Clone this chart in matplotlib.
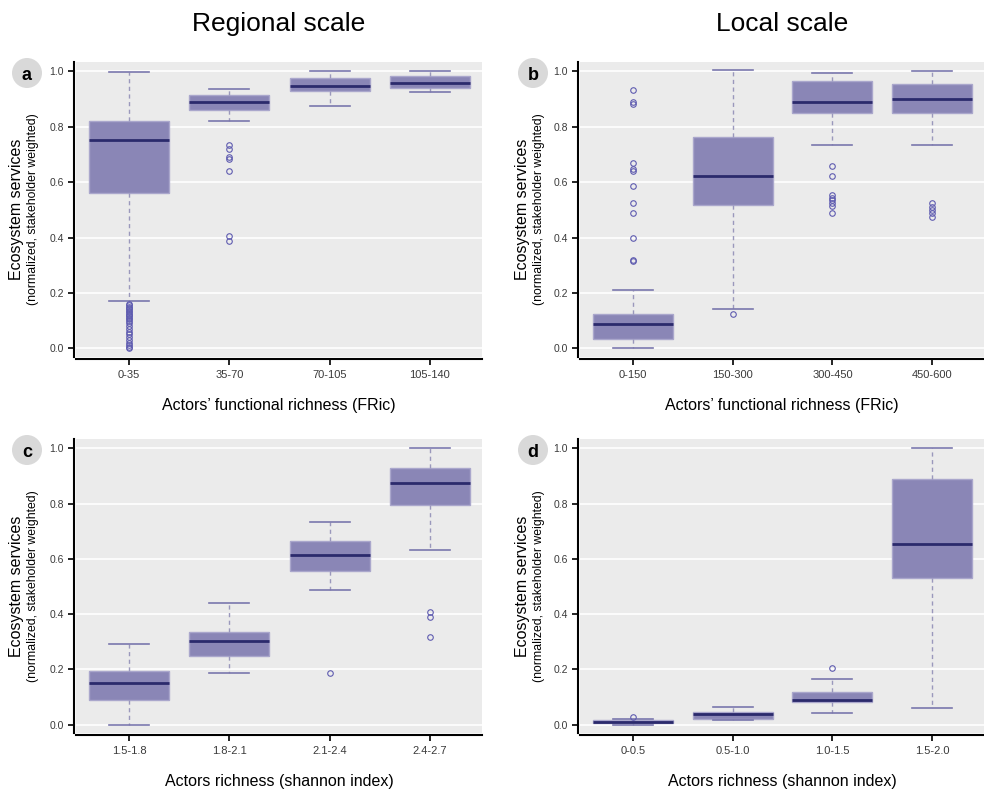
import matplotlib
matplotlib.use("Agg")
import matplotlib.pyplot as plt
from matplotlib.patches import Ellipse

plt.rcParams['font.family'] = ['Liberation Sans', 'DejaVu Sans']

# panel a - regional scale, functional richness
a_labels = ["0-35", "35-70", "70-105", "105-140"]
a_low = [0.169, 0.821, 0.876, 0.926]
a_q1 = [0.560, 0.862, 0.929, 0.940]
a_med = [0.754, 0.889, 0.947, 0.960]
a_q3 = [0.820, 0.914, 0.977, 0.983]
a_high = [0.999, 0.936, 1.0, 1.0]
a_out = [[0.0, 0.005, 0.01, 0.02, 0.03, 0.04, 0.05, 0.06, 0.07, 0.08, 0.09, 0.10,
          0.105, 0.11, 0.115, 0.12, 0.125, 0.13, 0.135, 0.14, 0.145, 0.15, 0.155, 0.16],
         [0.733, 0.721, 0.690, 0.685, 0.641, 0.406, 0.389],
         [], []]

# panel b - local scale, functional richness
b_labels = ["0-150", "150-300", "300-450", "450-600"]
b_low = [0.0, 0.140, 0.734, 0.733]
b_q1 = [0.033, 0.516, 0.849, 0.850]
b_med = [0.088, 0.623, 0.888, 0.900]
b_q3 = [0.122, 0.764, 0.967, 0.955]
b_high = [0.211, 1.005, 0.995, 1.0]
b_out = [[0.932, 0.889, 0.884, 0.669, 0.649, 0.641, 0.586, 0.525, 0.489, 0.399, 0.320, 0.315],
         [0.123],
         [0.657, 0.624, 0.554, 0.542, 0.534, 0.524, 0.514, 0.487],
         [0.523, 0.512, 0.500, 0.487, 0.474]]

# panel c - regional scale, shannon
c_labels = ["1.5-1.8", "1.8-2.1", "2.1-2.4", "2.4-2.7"]
c_low = [0.0, 0.187, 0.489, 0.631]
c_q1 = [0.090, 0.250, 0.556, 0.794]
c_med = [0.150, 0.304, 0.615, 0.875]
c_q3 = [0.196, 0.334, 0.666, 0.927]
c_high = [0.292, 0.440, 0.732, 1.0]
c_out = [[], [], [0.188], [0.408, 0.389, 0.316]]

# panel d - local scale, shannon
d_labels = ["0-0.5", "0.5-1.0", "1.0-1.5", "1.5-2.0"]
d_low = [0.0, 0.016, 0.041, 0.060]
d_q1 = [0.006, 0.021, 0.082, 0.532]
d_med = [0.011, 0.040, 0.088, 0.652]
d_q3 = [0.016, 0.047, 0.120, 0.890]
d_high = [0.021, 0.063, 0.167, 1.0]
d_out = [[0.029], [], [0.206], []]

fill = "#8a86b6"
edge = "#aaa7cc"
med_col = "#2b2a6c"
whisk = "#9a98bc"
cap_col = "#7a77ad"
out_col = "#5f5cb0"


def draw(ax, labels, low, q1, med, q3, high, out, xlabel):
    stats = []
    for i in range(len(labels)):
        stats.append(dict(whislo=low[i], q1=q1[i], med=med[i], q3=q3[i],
                          whishi=high[i], fliers=out[i]))
    ax.set_facecolor("#ebebeb")
    ax.set_axisbelow(True)
    ax.bxp(stats, positions=[1, 2, 3, 4], widths=0.8, capwidths=0.4,
           patch_artist=True, showfliers=True,
           boxprops=dict(facecolor=fill, edgecolor=edge, linewidth=1),
           medianprops=dict(color=med_col, linewidth=2),
           whiskerprops=dict(color=whisk, linewidth=1, linestyle=(0, (3, 2.5))),
           capprops=dict(color=cap_col, linewidth=1.2),
           flierprops=dict(marker="o", markersize=4, markerfacecolor="none",
                           markeredgecolor=out_col, markeredgewidth=0.8))
    ax.set_xlim(0.47, 4.52)
    ax.set_ylim(-0.03, 1.035)
    ax.set_yticks([0, 0.2, 0.4, 0.6, 0.8, 1.0])
    ax.set_yticklabels(["0.0", "0.2", "0.4", "0.6", "0.8", "1.0"], rotation=90, va="center")
    ax.set_xticks([1, 2, 3, 4])
    ax.set_xticklabels(labels)
    ax.grid(axis="y", color="white", linewidth=1.2)
    for s in ["top", "right"]:
        ax.spines[s].set_visible(False)
    for s in ["left", "bottom"]:
        ax.spines[s].set_linewidth(1.5)
        ax.spines[s].set_position(("outward", 1.5))
    ax.tick_params(axis="x", labelsize=8, length=4, width=1.2, pad=4, labelcolor="#3a3a3a")
    ax.tick_params(axis="y", labelsize=7.5, length=4, width=1.2, pad=3, labelcolor="#3a3a3a")
    ax.set_xlabel(xlabel, fontsize=11.5, labelpad=13)
    ax.set_ylabel("")


fig = plt.figure(figsize=(9.84, 7.92), dpi=100)
W, H = 984.0, 792.0

ax_a = fig.add_axes([76 / W, 1 - 356.5 / H, 406 / W, 294.7 / H])
ax_b = fig.add_axes([580 / W, 1 - 356.5 / H, 404 / W, 294.7 / H])
ax_c = fig.add_axes([76 / W, 1 - 733 / H, 406 / W, 294.4 / H])
ax_d = fig.add_axes([580 / W, 1 - 733 / H, 404 / W, 294.4 / H])

draw(ax_a, a_labels, a_low, a_q1, a_med, a_q3, a_high, a_out, "Actors\u2019 functional richness (FRic)")
draw(ax_b, b_labels, b_low, b_q1, b_med, b_q3, b_high, b_out, "Actors\u2019 functional richness (FRic)")
draw(ax_c, c_labels, c_low, c_q1, c_med, c_q3, c_high, c_out, "Actors richness (shannon index)")
draw(ax_d, d_labels, d_low, d_q1, d_med, d_q3, d_high, d_out, "Actors richness (shannon index)")

fig.text(279 / W, 1 - 31 / H, "Regional scale", fontsize=19, ha="center", va="baseline")
fig.text(782 / W, 1 - 31 / H, "Local scale", fontsize=19, ha="center", va="baseline")

# y labels and panel letters
for x0, yc, letter in [(0, 209, "a"), (506, 209, "b"), (0, 586, "c"), (506, 586, "d")]:
    fig.text((x0 + 17) / W, 1 - yc / H, "Ecosystem services", fontsize=11.5,
             rotation=90, ha="center", va="center")
    fig.text((x0 + 33) / W, 1 - yc / H, "(normalized, stakeholder weighted)", fontsize=8.8,
             rotation=90, ha="center", va="center")
    cy = 73 if letter in "ab" else 450
    fig.add_artist(Ellipse(((x0 + 27) / W, 1 - cy / H), 30 / W, 30 / H,
                           transform=fig.transFigure, facecolor="#d9d9d9", edgecolor="none"))
    fig.text((x0 + 27) / W, 1 - cy / H, letter, fontsize=13, fontweight="bold",
             ha="center", va="center_baseline")

fig.savefig("out.png", dpi=100)
